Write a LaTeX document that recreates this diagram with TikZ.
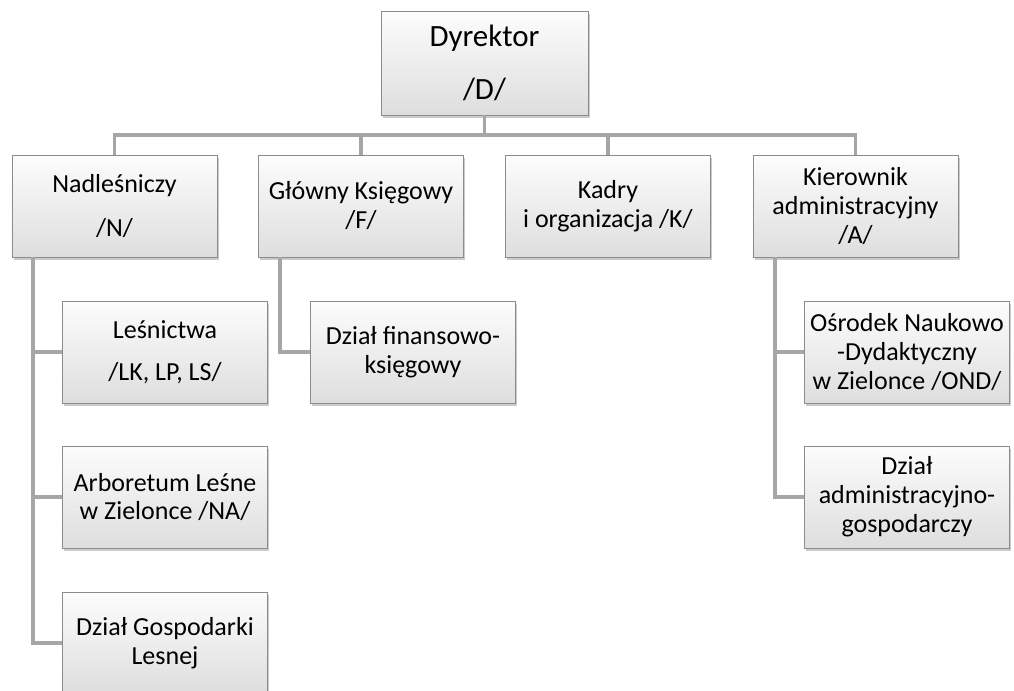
\documentclass[tikz,border=0pt]{standalone}
\usepackage{fontspec}
\setmainfont{Carlito}
\usetikzlibrary{calc, shadows}

\begin{document}
\begin{tikzpicture}[
          x=0.025cm, y=-0.025cm,
          unit/.style={rectangle, draw=black!45, line width=0.6pt,
                       top color=gray!2, bottom color=gray!26,
                       minimum width=5.125cm, minimum height=2.55cm,
                       align=center, inner sep=2pt,
                       font=\fontsize{18.5}{20.6}\selectfont,
                       drop shadow={shadow xshift=1.2pt, shadow yshift=-1.8pt,
                                    fill=black!45, opacity=0.45}},
          conn/.style={draw=black!35, line width=2.8pt}
        ]
          \useasboundingbox (0,0) rectangle (1014,691);
          % level 0 and 1
          \node[unit, minimum width=5.175cm, minimum height=2.6cm,
                font=\fontsize{22}{24.5}\selectfont] (D) at (484.5,63)
            {Dyrektor\\[13pt] /D/};
          \node[unit] (N) at (114.5,206) {Nadleśniczy\\[10.5pt] /N/};
          \node[unit] (G) at (361,206)   {Główny Księgowy\\ /F/};
          \node[unit] (K) at (608,206)   {Kadry\\ i organizacja /K/};
          \node[unit] (A) at (855.5,206) {Kierownik\\ administracyjny\\ /A/};
          % level 2
          \node[unit] (LS) at (165,352) {Leśnictwa\\[9.5pt] /LK, LP, LS/};
          \node[unit] (NA) at (165,497) {Arboretum Leśne\\ w Zielonce /NA/};
          \node[unit] (GL) at (165,643) {Dział Gospodarki\\ Lesnej};
          \node[unit] (FK) at (413,352) {Dział finansowo-\\ księgowy};
          \node[unit] (OND) at (907,352) {Ośrodek Naukowo\\ -Dydaktyczny\\ w Zielonce /OND/};
          \node[unit] (AG) at (907,497) {Dział\\ administracyjno-\\ gospodarczy};
          % connectors from the director
          \draw[conn] (D.south) -- ++(0,20) -| (N.north);
          \draw[conn] (D.south) -- ++(0,20) -| (G.north);
          \draw[conn] (D.south) -- ++(0,20) -| (K.north);
          \draw[conn] (D.south) -- ++(0,20) -| (A.north);
          % trunks to the departments
          \coordinate (Ntrunk) at ([xshift=0.525cm]N.south west);
          \coordinate (Gtrunk) at ([xshift=0.55cm]G.south west);
          \coordinate (Atrunk) at ([xshift=0.55cm]A.south west);
          \draw[conn] (Ntrunk) |- (LS.west);
          \draw[conn] (Ntrunk) |- (NA.west);
          \draw[conn] (Ntrunk) |- (GL.west);
          \draw[conn] (Gtrunk) |- (FK.west);
          \draw[conn] (Atrunk) |- (OND.west);
          \draw[conn] (Atrunk) |- (AG.west);
        \end{tikzpicture}
\end{document}
